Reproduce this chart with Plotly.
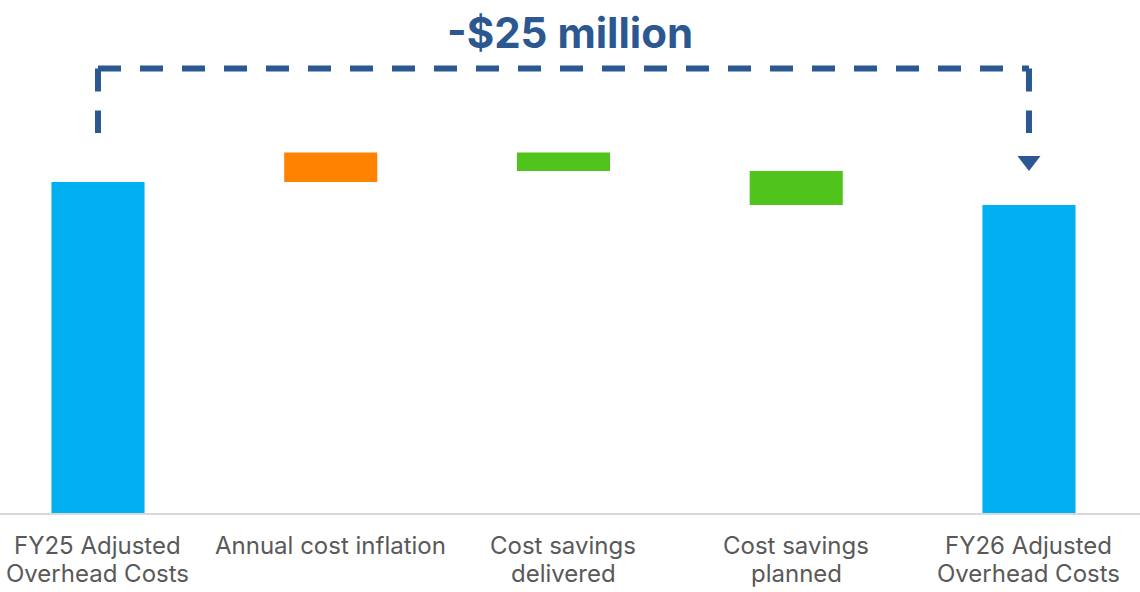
import plotly.graph_objects as go

categories = ["FY25 Adjusted<br>Overhead Costs", "Annual cost inflation",
              "Cost savings<br>delivered", "Cost savings<br>planned",
              "FY26 Adjusted<br>Overhead Costs"]
values = [360, 32, -20, -37, 0]
measures = ["absolute", "relative", "relative", "relative", "total"]
title_text = "-$25 million"

BLUE = "#00B0F0"
ORANGE = "#FF8200"
GREEN = "#50C41C"
NAVY = "#2B5891"

x_idx = list(range(len(categories)))

fig = go.Figure()
fig.add_trace(go.Waterfall(
    x=x_idx, y=values, measure=measures, width=0.4,
    increasing=dict(marker=dict(color=ORANGE)),
    decreasing=dict(marker=dict(color=GREEN)),
    totals=dict(marker=dict(color=BLUE)),
    connector=dict(visible=False),
    showlegend=False, hoverinfo="skip",
))

top_y = 483.5
bottom_y = 413.3
dash_line = dict(color=NAVY, width=6, dash="23px,19px")

# bracket: each segment's dash pattern starts at the top corners
for xs, ys in [([0, 0], [top_y, bottom_y]),
               ([0, 4], [top_y, top_y]),
               ([4, 4], [top_y, bottom_y])]:
    fig.add_trace(go.Scatter(
        x=xs, y=ys, mode="lines", line=dash_line,
        showlegend=False, hoverinfo="skip",
    ))
fig.add_trace(go.Scatter(
    x=[4], y=[383], mode="markers",
    marker=dict(symbol="triangle-down", size=20, color=NAVY),
    showlegend=False, hoverinfo="skip",
))

fig.add_annotation(
    x=2.03, y=523, xref="x", yref="y", text=f"<b>{title_text}</b>",
    showarrow=False, font=dict(family="Inter", size=42, color=NAVY),
)

# category labels, one annotation per line for tight line spacing
for i, cat in enumerate(categories):
    for j, line in enumerate(cat.split("<br>")):
        fig.add_annotation(
            x=i, y=0, xref="x", yref="paper", text=line, showarrow=False,
            yanchor="middle", yshift=-(32 + 28 * j),
            font=dict(family="Inter", size=24, color="#595959"),
        )

fig.update_layout(
    width=1140, height=592,
    margin=dict(l=0, r=0, t=0, b=79),
    paper_bgcolor="white", plot_bgcolor="white",
    font=dict(family="Inter", color="#595959"),
    xaxis=dict(
        range=[-0.421, 4.477], tickmode="array", tickvals=x_idx,
        showticklabels=False, showgrid=False, zeroline=False,
        showline=True, linecolor="#D9D9D9", linewidth=2,
        ticks="", automargin=False,
    ),
    yaxis=dict(range=[0, 558], visible=False, showgrid=False, automargin=False),
)

fig.write_html(
    "out.html",
    config={"displayModeBar": False},
    post_script="document.body.style.margin='0';document.body.style.overflow='hidden';",
)
